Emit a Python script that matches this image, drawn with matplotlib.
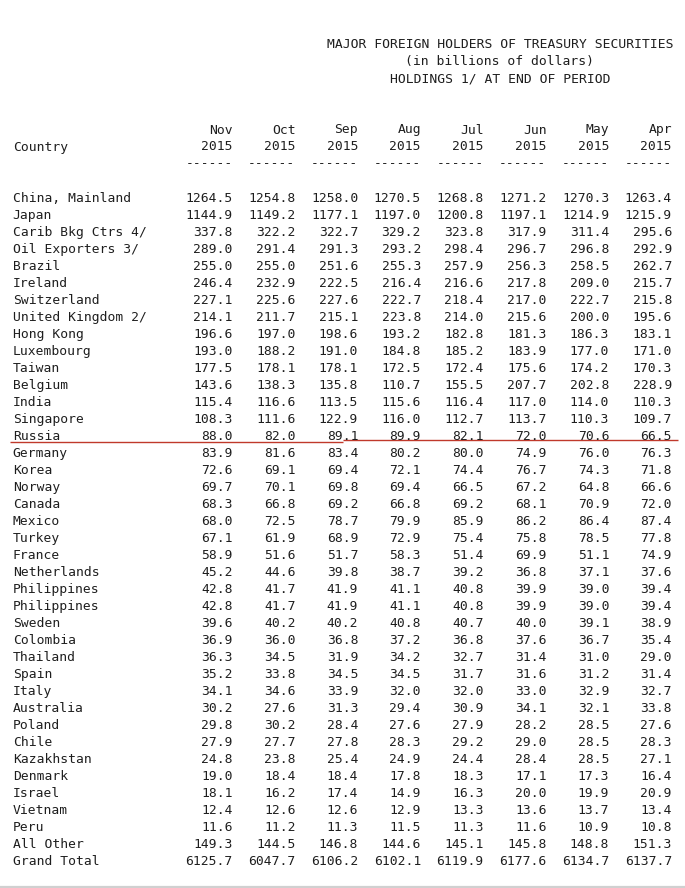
import matplotlib
matplotlib.use("Agg")
import matplotlib.pyplot as plt

# Table contents
title_lines = [
    "MAJOR FOREIGN HOLDERS OF TREASURY SECURITIES",
    "(in billions of dollars)",
    "HOLDINGS 1/ AT END OF PERIOD",
]
months = ["Nov", "Oct", "Sep", "Aug", "Jul", "Jun", "May", "Apr"]
years = ["2015"] * 8

countries = [
    "China, Mainland", "Japan", "Carib Bkg Ctrs 4/", "Oil Exporters 3/",
    "Brazil", "Ireland", "Switzerland", "United Kingdom 2/", "Hong Kong",
    "Luxembourg", "Taiwan", "Belgium", "India", "Singapore", "Russia",
    "Germany", "Korea", "Norway", "Canada", "Mexico", "Turkey", "France",
    "Netherlands", "Philippines", "Philippines", "Sweden", "Colombia",
    "Thailand", "Spain", "Italy", "Australia", "Poland", "Chile",
    "Kazakhstan", "Denmark", "Israel", "Vietnam", "Peru", "All Other",
    "Grand Total",
]

nov = [1264.5, 1144.9, 337.8, 289.0, 255.0, 246.4, 227.1, 214.1, 196.6, 193.0,
       177.5, 143.6, 115.4, 108.3, 88.0, 83.9, 72.6, 69.7, 68.3, 68.0,
       67.1, 58.9, 45.2, 42.8, 42.8, 39.6, 36.9, 36.3, 35.2, 34.1,
       30.2, 29.8, 27.9, 24.8, 19.0, 18.1, 12.4, 11.6, 149.3, 6125.7]
oct_ = [1254.8, 1149.2, 322.2, 291.4, 255.0, 232.9, 225.6, 211.7, 197.0, 188.2,
        178.1, 138.3, 116.6, 111.6, 82.0, 81.6, 69.1, 70.1, 66.8, 72.5,
        61.9, 51.6, 44.6, 41.7, 41.7, 40.2, 36.0, 34.5, 33.8, 34.6,
        27.6, 30.2, 27.7, 23.8, 18.4, 16.2, 12.6, 11.2, 144.5, 6047.7]
sep = [1258.0, 1177.1, 322.7, 291.3, 251.6, 222.5, 227.6, 215.1, 198.6, 191.0,
       178.1, 135.8, 113.5, 122.9, 89.1, 83.4, 69.4, 69.8, 69.2, 78.7,
       68.9, 51.7, 39.8, 41.9, 41.9, 40.2, 36.8, 31.9, 34.5, 33.9,
       31.3, 28.4, 27.8, 25.4, 18.4, 17.4, 12.6, 11.3, 146.8, 6106.2]
aug = [1270.5, 1197.0, 329.2, 293.2, 255.3, 216.4, 222.7, 223.8, 193.2, 184.8,
       172.5, 110.7, 115.6, 116.0, 89.9, 80.2, 72.1, 69.4, 66.8, 79.9,
       72.9, 58.3, 38.7, 41.1, 41.1, 40.8, 37.2, 34.2, 34.5, 32.0,
       29.4, 27.6, 28.3, 24.9, 17.8, 14.9, 12.9, 11.5, 144.6, 6102.1]
jul = [1268.8, 1200.8, 323.8, 298.4, 257.9, 216.6, 218.4, 214.0, 182.8, 185.2,
       172.4, 155.5, 116.4, 112.7, 82.1, 80.0, 74.4, 66.5, 69.2, 85.9,
       75.4, 51.4, 39.2, 40.8, 40.8, 40.7, 36.8, 32.7, 31.7, 32.0,
       30.9, 27.9, 29.2, 24.4, 18.3, 16.3, 13.3, 11.3, 145.1, 6119.9]
jun = [1271.2, 1197.1, 317.9, 296.7, 256.3, 217.8, 217.0, 215.6, 181.3, 183.9,
       175.6, 207.7, 117.0, 113.7, 72.0, 74.9, 76.7, 67.2, 68.1, 86.2,
       75.8, 69.9, 36.8, 39.9, 39.9, 40.0, 37.6, 31.4, 31.6, 33.0,
       34.1, 28.2, 29.0, 28.4, 17.1, 20.0, 13.6, 11.6, 145.8, 6177.6]
may = [1270.3, 1214.9, 311.4, 296.8, 258.5, 209.0, 222.7, 200.0, 186.3, 177.0,
       174.2, 202.8, 114.0, 110.3, 70.6, 76.0, 74.3, 64.8, 70.9, 86.4,
       78.5, 51.1, 37.1, 39.0, 39.0, 39.1, 36.7, 31.0, 31.2, 32.9,
       32.1, 28.5, 28.5, 28.5, 17.3, 19.9, 13.7, 10.9, 148.8, 6134.7]
apr = [1263.4, 1215.9, 295.6, 292.9, 262.7, 215.7, 215.8, 195.6, 183.1, 171.0,
       170.3, 228.9, 110.3, 109.7, 66.5, 76.3, 71.8, 66.6, 72.0, 87.4,
       77.8, 74.9, 37.6, 39.4, 39.4, 38.9, 35.4, 29.0, 31.4, 32.7,
       33.8, 27.6, 28.3, 27.1, 16.4, 20.9, 13.4, 10.8, 151.3, 6137.7]

columns = [nov, oct_, sep, aug, jul, jun, may, apr]

# Layout (pixels)
W, H = 685, 888
line_h = 17.0
base0 = 201.5 - 9 * line_h      # baseline of first text line
left_x = 12.7
col_right0 = 232.7
col_pitch = 62.75
title_cx = 500
ink = "#1e1e1e"
font = dict(family="DejaVu Sans Mono", size=9.4, color=ink)


def baseline(line):
    return base0 + line * line_h


fig = plt.figure(figsize=(W / 100, H / 100), dpi=100)
ax = fig.add_axes([0, 0, 1, 1])
ax.set_xlim(0, W)
ax.set_ylim(H, 0)
ax.axis("off")

for i, t in enumerate(title_lines):
    ax.text(title_cx, baseline(i), t, ha="center", va="baseline", **font)

ax.text(left_x, baseline(6), "Country", ha="left", va="baseline", **font)
for j, (m, yr) in enumerate(zip(months, years)):
    x = col_right0 + j * col_pitch
    ax.text(x, baseline(5), m, ha="right", va="baseline", **font)
    ax.text(x, baseline(6), yr, ha="right", va="baseline", **font)
    ax.text(x, baseline(7), "------", ha="right", va="baseline", **font)

for r, name in enumerate(countries):
    y = baseline(9 + r)
    ax.text(left_x, y, name, ha="left", va="baseline", **font)
    for j, col in enumerate(columns):
        ax.text(col_right0 + j * col_pitch, y, f"{col[r]:.1f}",
                ha="right", va="baseline", **font)

# red rule under Russia
russia = countries.index("Russia")
y_rule = baseline(9 + russia) + 1.3
ax.plot([10, 343], [y_rule + 0.7, y_rule + 0.7], color="#c0392b", lw=1.0,
        solid_capstyle="butt")
ax.plot([343, 678], [y_rule - 0.5, y_rule - 0.5], color="#c0392b", lw=1.0,
        solid_capstyle="butt")

# light grey rule at the bottom
ax.plot([0, W], [886.5, 886.5], color="#d0d0d0", lw=1.6)

fig.savefig("out.png", dpi=100)
